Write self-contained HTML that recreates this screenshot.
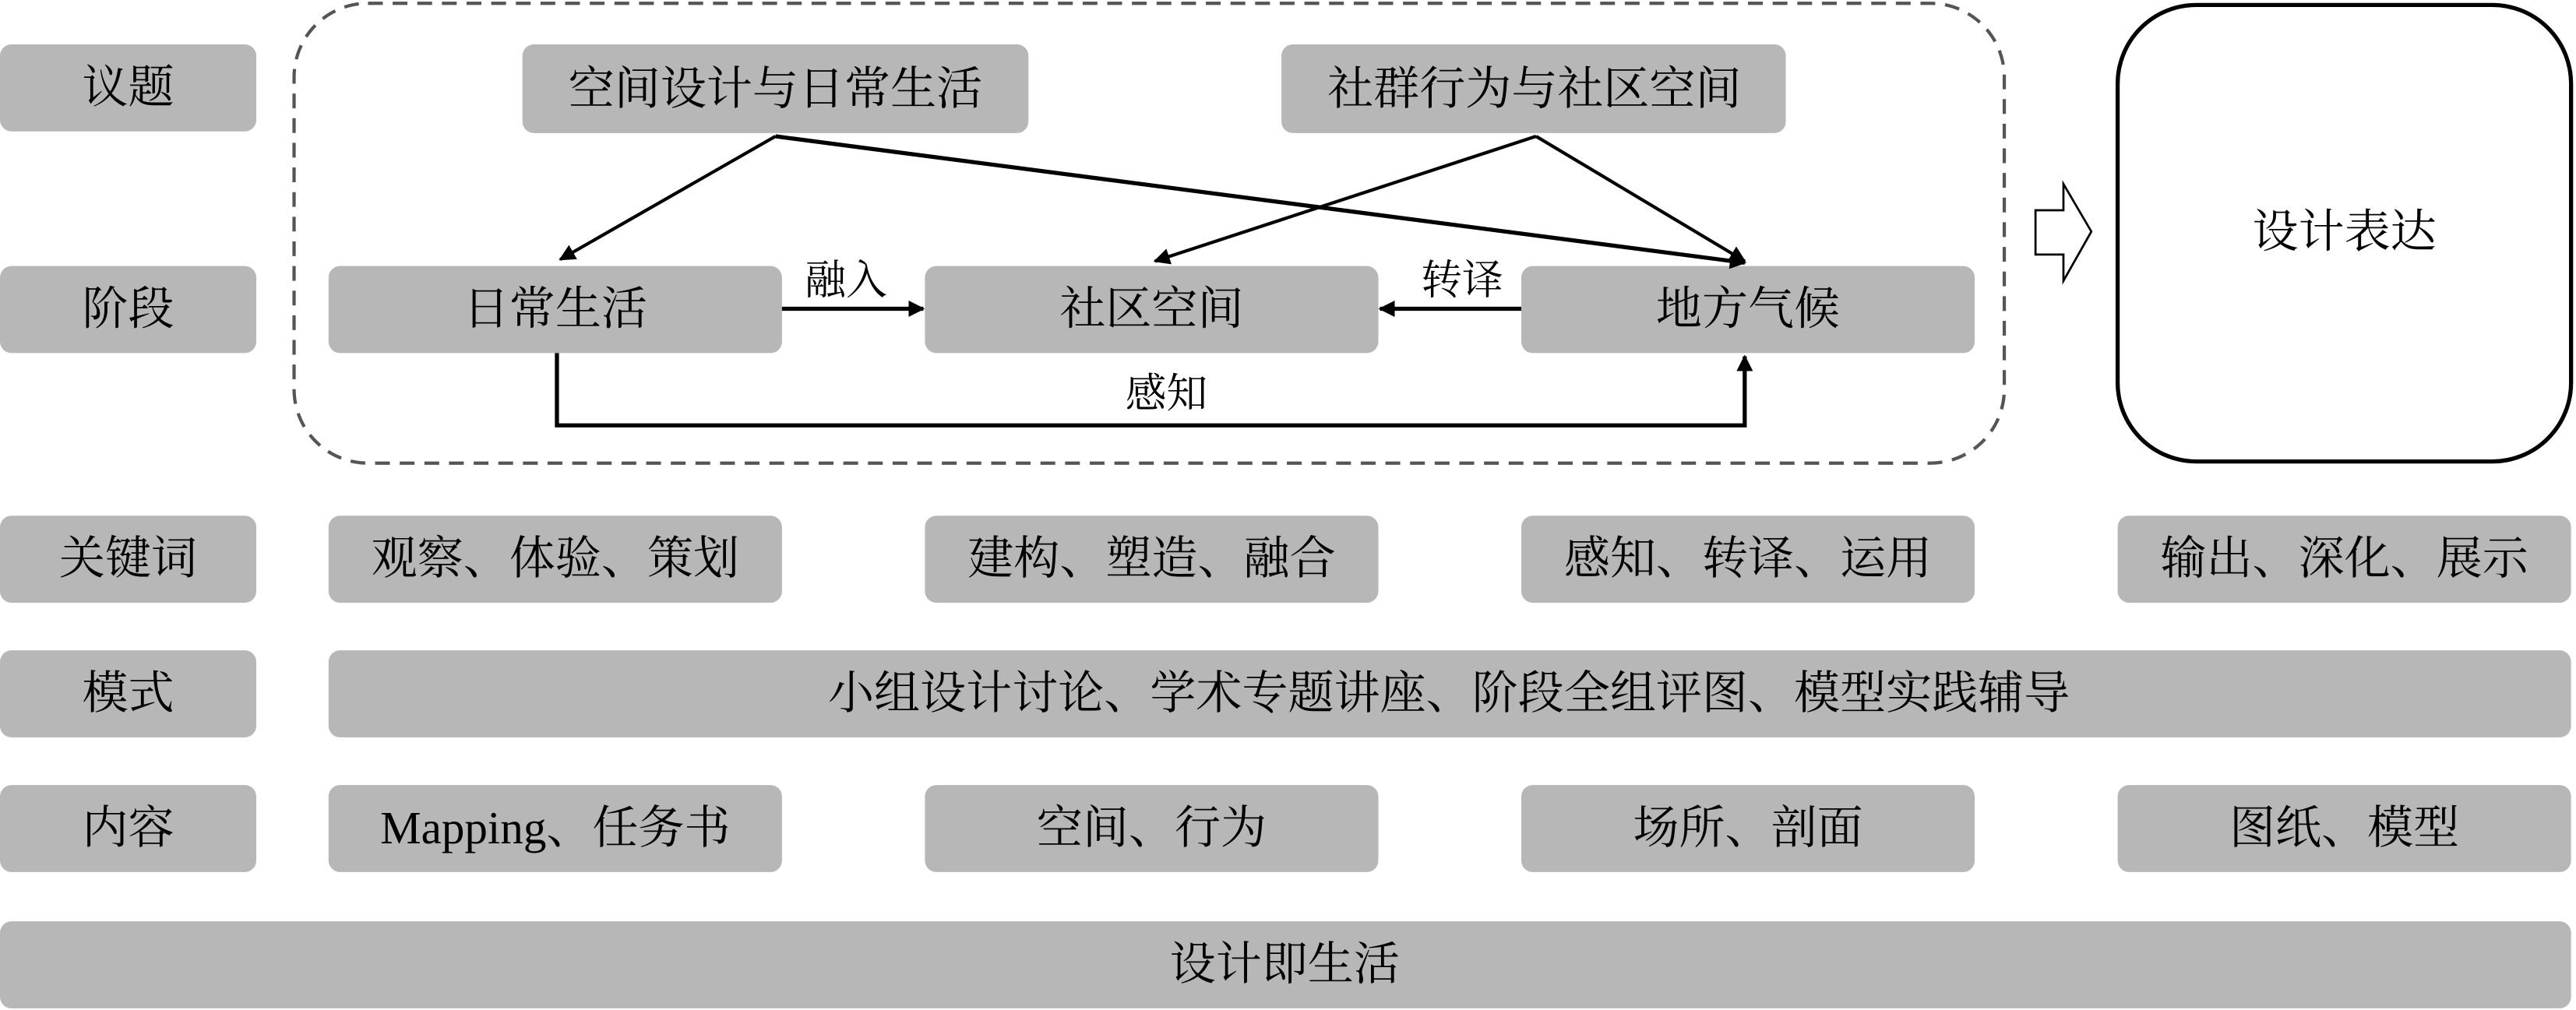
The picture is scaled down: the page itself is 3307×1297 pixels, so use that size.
<!DOCTYPE html>
<html><head><meta charset="utf-8"><style>
html,body{margin:0;padding:0;background:#fff;}
svg{display:block;}
text{font-family:"Liberation Serif","Noto Serif CJK SC","WenQuanYi Zen Hei",serif;font-size:28px;fill:#000;text-anchor:middle;dominant-baseline:central;}
</style></head><body>
<svg width="3307" height="1297" viewBox="0 0 1568 615" preserveAspectRatio="none" xmlns="http://www.w3.org/2000/svg">
<defs>
<marker id="ah" markerWidth="10" markerHeight="10" refX="9" refY="5" orient="auto" markerUnits="userSpaceOnUse">
<path d="M0,0 L10,5 L0,10 z" fill="#000"/></marker>
</defs>
<g fill="#b7b7b7">
<rect x="0" y="27" width="156" height="53" rx="7"/>
<rect x="0" y="162" width="156" height="53" rx="7"/>
<rect x="0" y="314" width="156" height="53" rx="7"/>
<rect x="0" y="396" width="156" height="53" rx="7"/>
<rect x="0" y="478" width="156" height="53" rx="7"/>
<rect x="0" y="561" width="1565" height="53" rx="7"/>
<rect x="318" y="27" width="308" height="54" rx="7"/>
<rect x="780" y="27" width="307" height="54" rx="7"/>
<rect x="200" y="162" width="276" height="53" rx="7"/>
<rect x="563" y="162" width="276" height="53" rx="7"/>
<rect x="926" y="162" width="276" height="53" rx="7"/>
<rect x="200" y="314" width="276" height="53" rx="7"/>
<rect x="563" y="314" width="276" height="53" rx="7"/>
<rect x="926" y="314" width="276" height="53" rx="7"/>
<rect x="1289" y="314" width="276" height="53" rx="7"/>
<rect x="200" y="396" width="1365" height="53" rx="7"/>
<rect x="200" y="478" width="276" height="53" rx="7"/>
<rect x="563" y="478" width="276" height="53" rx="7"/>
<rect x="926" y="478" width="276" height="53" rx="7"/>
<rect x="1289" y="478" width="276" height="53" rx="7"/>
</g>
<rect x="179" y="2" width="1041" height="280" rx="45" fill="none" stroke="#555" stroke-width="2" stroke-dasharray="9,6"/>
<rect x="1289" y="3" width="276" height="278" rx="48" fill="none" stroke="#000" stroke-width="2.5"/>
<polygon points="1239,128 1256,128 1256,112 1273,141 1256,171 1256,155 1239,155" fill="#fff" stroke="#000" stroke-width="1.3"/>
<g stroke="#000" stroke-width="2" fill="none">
<line x1="472" y1="83" x2="341" y2="158" marker-end="url(#ah)"/>
<line x1="472" y1="83" x2="1062" y2="160" stroke-width="2.5" marker-end="url(#ah)"/>
<line x1="935" y1="83" x2="703" y2="159" marker-end="url(#ah)"/>
<line x1="935" y1="83" x2="1062" y2="159" marker-end="url(#ah)"/>
<line x1="476" y1="188" x2="562" y2="188" stroke-width="2.5" marker-end="url(#ah)"/>
<line x1="926" y1="188" x2="840" y2="188" stroke-width="2.5" marker-end="url(#ah)"/>
<polyline points="339,215 339,259 1062,259 1062,217" stroke-width="2.5" marker-end="url(#ah)"/>
</g>
<text x="78" y="53">议题</text>
<text x="78" y="188">阶段</text>
<text x="78" y="340">关键词</text>
<text x="78" y="422">模式</text>
<text x="78" y="504">内容</text>
<text x="782" y="587">设计即生活</text>
<text x="472" y="54">空间设计与日常生活</text>
<text x="934" y="54">社群行为与社区空间</text>
<text x="338" y="188">日常生活</text>
<text x="701" y="188">社区空间</text>
<text x="1064" y="188">地方气候</text>
<text x="515" y="171" style="font-size:25px">融入</text>
<text x="890" y="171" style="font-size:25px">转译</text>
<text x="710" y="240" style="font-size:25px">感知</text>
<text x="1427" y="141">设计表达</text>
<text x="338" y="340">观察、体验、策划</text>
<text x="701" y="340">建构、塑造、融合</text>
<text x="1064" y="340">感知、转译、运用</text>
<text x="1427" y="340">输出、深化、展示</text>
<text x="882" y="422">小组设计讨论、学术专题讲座、阶段全组评图、模型实践辅导</text>
<text x="338" y="504">Mapping、任务书</text>
<text x="701" y="504">空间、行为</text>
<text x="1064" y="504">场所、剖面</text>
<text x="1427" y="504">图纸、模型</text>
</svg>
</body></html>
